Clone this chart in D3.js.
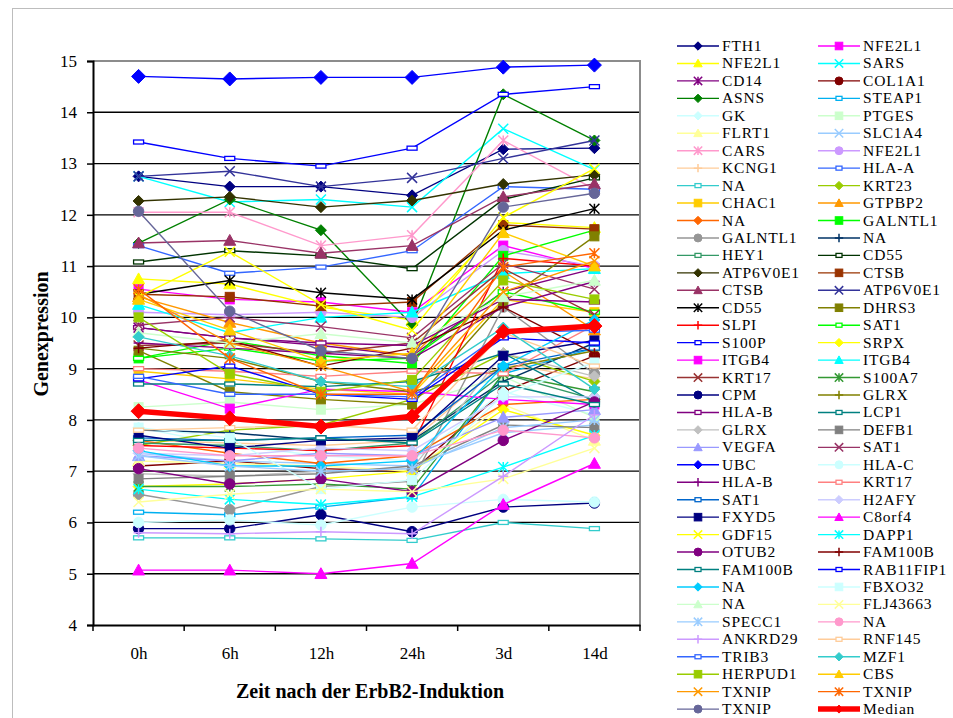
<!DOCTYPE html>
<html>
<head>
<meta charset="utf-8">
<script src="https://cdn.jsdelivr.net/npm/d3@7/dist/d3.min.js"></script>
<style>
  body { margin: 0; background: #fff; }
  svg { display: block; }
  svg text { font-family: "Liberation Serif", "Times New Roman", serif; fill: #000; }
</style>
</head>
<body>
<div class="chart"></div>
<script>
var values = { width: 953, height: 718, left: 93, right: 640, top: 61, bottom: 625 };
var serif = "'Liberation Serif', 'Times New Roman', serif";

// time points on the x axis
var categories = ["0h", "6h", "12h", "24h", "3d", "14d"];
var yTicks = [4, 5, 6, 7, 8, 9, 10, 11, 12, 13, 14, 15];

// genes in legend order
var genes = ["FTH1", "NFE2L1", "NFE2L1", "SARS", "CD14", "COL1A1", "ASNS", "STEAP1", "GK", "PTGES",
  "FLRT1", "SLC1A4", "CARS", "NFE2L1", "KCNG1", "HLA-A", "NA", "KRT23", "CHAC1", "GTPBP2",
  "NA", "GALNTL1", "GALNTL1", "NA", "HEY1", "CD55", "ATP6V0E1", "CTSB", "CTSB", "ATP6V0E1",
  "CD55", "DHRS3", "SLPI", "SAT1", "S100P", "SRPX", "ITGB4", "ITGB4", "KRT17", "S100A7",
  "CPM", "GLRX", "HLA-B", "LCP1", "GLRX", "DEFB1", "VEGFA", "SAT1", "UBC", "HLA-C",
  "HLA-B", "KRT17", "SAT1", "H2AFY", "FXYD5", "C8orf4", "GDF15", "DAPP1", "OTUB2", "FAM100B",
  "FAM100B", "RAB11FIP1", "NA", "FBXO32", "NA", "FLJ43663", "SPECC1", "NA", "ANKRD29", "RNF145",
  "TRIB3", "MZF1", "HERPUD1", "CBS", "TXNIP", "TXNIP", "TXNIP"];

var geneColors = ["#000080", "#FF00FF", "#FFFF00", "#00FFFF", "#800080", "#800000", "#008000", "#00B0F0", "#CCFFFF", "#CCFFCC",
  "#FFFF99", "#99CCFF", "#FF99CC", "#CC99FF", "#FFCC99", "#3366FF", "#33CCCC", "#99CC00", "#FFCC00", "#FF9900",
  "#FF6600", "#00FF00", "#969696", "#003366", "#339966", "#003300", "#333300", "#993300", "#993366", "#333399",
  "#000000", "#808000", "#FF0000", "#00FF00", "#0000FF", "#FFFF00", "#FF00FF", "#00FFFF", "#993333", "#339933",
  "#000080", "#808000", "#800080", "#008080", "#C0C0C0", "#808080", "#9999FF", "#993366", "#0000FF", "#CCFFFF",
  "#800080", "#FF8080", "#0066CC", "#CCCCFF", "#000080", "#FF00FF", "#FFFF00", "#00FFFF", "#800080", "#800000",
  "#008080", "#0000FF", "#00CCFF", "#CCFFFF", "#CCFFCC", "#FFFF99", "#99CCFF", "#FF99CC", "#CC99FF", "#FFCC99",
  "#3366FF", "#33CCCC", "#99CC00", "#FFCC00", "#FF9900", "#FF6600", "#666699"];

var geneMarkers = ["diamond", "square", "triangle", "x", "star", "circle", "diamond", "dash", "diamond", "square",
  "triangle", "x", "star", "circle", "plus", "dash", "dash", "diamond", "square", "triangle",
  "diamond", "square", "circle", "plus", "dash", "dash", "diamond", "square", "triangle", "x",
  "star", "square", "plus", "dash", "dash", "diamond", "square", "triangle", "x", "star",
  "circle", "plus", "dash", "dash", "diamond", "square", "triangle", "x", "diamond", "circle",
  "plus", "dash", "dash", "diamond", "square", "triangle", "x", "star", "circle", "plus",
  "dash", "dash", "diamond", "square", "triangle", "x", "star", "circle", "plus", "dash",
  "dash", "diamond", "square", "triangle", "x", "star", "circle"];

// expression values per gene, one row per gene (0h, 6h, 12h, 24h, 3d, 14d)
var expression = [
  [12.75, 12.55, 12.55, 12.38, 13.28, 13.30],
  [10.55, 10.35, 10.30, 10.10, 11.40, 10.95],
  [10.75, 10.65, 10.20, 9.95, 11.85, 11.75],
  [12.75, 12.25, 12.30, 12.15, 13.68, 12.88],
  [9.80, 9.60, 9.45, 9.25, 10.50, 10.95],
  [7.10, 7.20, 7.05, 7.00, 8.55, 9.25],
  [11.45, 12.30, 11.70, 9.85, 14.35, 13.45],
  [6.20, 6.15, 6.30, 6.50, 8.90, 9.40],
  [7.85, 7.50, 7.30, 7.20, 8.55, 8.10],
  [8.25, 8.35, 8.20, 8.30, 8.85, 8.05],
  [7.20, 7.15, 7.10, 7.00, 8.30, 7.60],
  [7.35, 7.20, 7.15, 7.10, 7.75, 7.90],
  [12.05, 12.05, 11.40, 11.60, 13.45, 12.50],
  [10.10, 10.05, 10.10, 10.00, 11.30, 11.00],
  [7.60, 7.55, 7.50, 7.60, 9.10, 8.80],
  [11.40, 10.86, 10.98, 11.30, 12.55, 12.50],
  [5.70, 5.70, 5.68, 5.65, 6.00, 5.88],
  [7.50, 7.80, 7.90, 8.40, 9.30, 8.75],
  [8.95, 8.80, 8.60, 8.50, 10.35, 10.10],
  [10.40, 9.90, 9.50, 9.25, 10.90, 9.75],
  [7.60, 7.35, 7.15, 7.30, 8.30, 8.40],
  [9.20, 9.55, 9.25, 9.10, 11.20, 11.70],
  [6.55, 6.25, 6.70, 6.80, 10.20, 8.90],
  [7.80, 7.75, 7.60, 7.60, 8.75, 9.50],
  [7.55, 7.50, 7.40, 7.55, 8.90, 8.40],
  [11.08, 11.30, 11.20, 10.95, 12.30, 12.72],
  [12.27, 12.35, 12.15, 12.28, 12.60, 12.78],
  [10.45, 10.40, 10.22, 10.30, 11.80, 11.72],
  [11.45, 11.50, 11.25, 11.40, 12.35, 12.60],
  [12.75, 12.85, 12.55, 12.72, 13.10, 13.45],
  [10.45, 10.72, 10.48, 10.35, 11.70, 12.12],
  [9.35, 8.55, 8.40, 8.30, 10.30, 11.58],
  [7.50, 7.45, 7.40, 7.50, 11.15, 11.00],
  [9.20, 9.40, 9.15, 9.20, 10.50, 10.10],
  [13.42, 13.10, 12.95, 13.30, 14.35, 14.50],
  [6.70, 6.75, 6.85, 7.00, 8.20, 7.70],
  [8.78, 8.22, 8.60, 8.55, 8.40, 8.30],
  [10.25, 9.70, 10.00, 10.10, 10.85, 10.95],
  [9.45, 9.50, 9.30, 9.50, 10.95, 10.05],
  [6.70, 6.70, 6.75, 6.65, 8.90, 8.55],
  [5.88, 5.88, 6.15, 5.82, 6.30, 6.38],
  [9.40, 9.20, 8.75, 8.55, 9.00, 9.35],
  [9.80, 9.60, 9.50, 9.45, 10.35, 10.30],
  [8.70, 8.70, 8.65, 8.75, 9.30, 8.35],
  [6.95, 6.90, 7.00, 7.05, 9.30, 8.85],
  [6.85, 6.90, 6.95, 7.10, 7.90, 7.85],
  [7.30, 7.20, 7.35, 7.30, 8.05, 8.20],
  [9.85, 10.00, 9.82, 9.60, 11.05, 10.55],
  [14.70, 14.65, 14.68, 14.68, 14.88, 14.92],
  [6.00, 6.05, 5.95, 6.30, 6.45, 6.40],
  [9.50, 9.40, 9.30, 9.20, 10.20, 10.70],
  [9.00, 8.95, 8.85, 8.95, 8.90, 9.85],
  [7.65, 7.60, 7.65, 7.70, 9.05, 9.40],
  [7.35, 7.30, 7.45, 7.40, 8.45, 8.45],
  [7.70, 7.45, 7.60, 7.65, 9.25, 9.55],
  [5.07, 5.07, 5.00, 5.20, 6.35, 7.15],
  [10.40, 11.28, 10.25, 9.75, 11.95, 12.90],
  [6.65, 6.45, 6.35, 6.50, 7.08, 7.70],
  [7.05, 6.75, 6.85, 6.60, 7.60, 8.35],
  [9.40, 9.55, 9.05, 9.40, 10.20, 9.30],
  [7.60, 7.60, 7.65, 7.55, 8.70, 8.30],
  [8.80, 9.05, 8.50, 8.40, 9.60, 9.50],
  [7.40, 7.10, 7.10, 7.20, 9.05, 9.95],
  [7.85, 7.65, 6.65, 6.83, 8.48, 9.12],
  [9.70, 9.50, 9.68, 9.50, 10.40, 10.72],
  [6.40, 6.55, 6.65, 6.60, 6.85, 7.45],
  [7.30, 7.10, 7.00, 7.05, 7.85, 8.00],
  [7.45, 7.30, 7.30, 7.30, 7.80, 7.65],
  [5.80, 5.78, 5.82, 5.78, 6.90, 8.10],
  [7.80, 7.85, 7.90, 7.80, 9.70, 9.05],
  [8.85, 8.50, 8.50, 8.45, 9.70, 9.75],
  [9.62, 9.25, 8.75, 8.65, 9.80, 8.60],
  [10.00, 8.90, 8.55, 8.78, 10.72, 10.35],
  [10.35, 9.75, 9.15, 9.30, 11.65, 11.00],
  [10.45, 9.50, 9.05, 8.55, 10.50, 11.10],
  [10.55, 9.20, 8.50, 8.50, 10.98, 11.25],
  [12.07, 10.12, 9.35, 9.20, 12.15, 12.42]
];

var median = [8.17, 8.03, 7.87, 8.07, 9.72, 9.83];

var labelX = "Zeit nach der ErbB2-Induktion";
var labelY = "Genexpression";

var svg = d3.select(".chart")
  .append("svg")
  .attr("width", values.width)
  .attr("height", values.height)
  .attr("font-family", serif);

// outer chart border
svg.append("rect")
  .attr("x", 12.5).attr("y", 8.5)
  .attr("width", 960).attr("height", 730)
  .attr("fill", "#fff")
  .attr("stroke", "#bdbdbd");

var x = d3.scalePoint()
  .domain(categories)
  .range([values.left, values.right])
  .padding(0.5);

var y = d3.scaleLinear()
  .domain([4, 15])
  .range([values.bottom, values.top]);

// horizontal gridlines
svg.append("g")
  .selectAll("line")
  .data(yTicks.filter(d => d > 4 && d < 15))
  .enter()
  .append("line")
  .attr("x1", values.left).attr("x2", values.right)
  .attr("y1", d => y(d)).attr("y2", d => y(d))
  .attr("stroke", "#000")
  .attr("stroke-width", 1.3);

// plot area border (top and right in grey)
svg.append("path")
  .attr("d", "M" + values.left + "," + y(15) + "H" + values.right + "V" + values.bottom)
  .attr("fill", "none")
  .attr("stroke", "#8c8c8c")
  .attr("stroke-width", 2);

// y axis
var yAxis = d3.axisLeft(y).tickValues(yTicks).tickSize(6).tickPadding(10);
var gy = svg.append("g")
  .attr("transform", "translate(" + values.left + ",0)")
  .call(yAxis)
  .attr("font-family", serif);
gy.select(".domain").attr("stroke", "#000").attr("stroke-width", 2);
gy.selectAll(".tick line").attr("stroke", "#000").attr("stroke-width", 1.5);
gy.selectAll(".tick text")
  .style("font-family", serif)
  .attr("font-size", 17)
  .attr("fill", "#000");

// x axis, ticks between the categories
var step = x.step();
var xAxis = d3.axisBottom(x).tickSize(0).tickPadding(22);
var gx = svg.append("g")
  .attr("transform", "translate(0," + values.bottom + ")")
  .call(xAxis)
  .attr("font-family", serif);
gx.select(".domain").attr("stroke", "#000").attr("stroke-width", 2);
gx.selectAll(".tick text")
  .style("font-family", serif)
  .attr("font-size", 17)
  .attr("fill", "#000");
gx.selectAll(".sep")
  .data(d3.range(categories.length + 1))
  .enter()
  .append("line")
  .attr("x1", i => values.left + i * step).attr("x2", i => values.left + i * step)
  .attr("y1", 0).attr("y2", 6)
  .attr("stroke", "#000")
  .attr("stroke-width", 1.5);

// axis titles
svg.append("text")
  .attr("x", 370).attr("y", 698)
  .attr("text-anchor", "middle")
  .style("font-family", serif)
  .attr("font-size", 20)
  .attr("font-weight", "bold")
  .text(labelX);

svg.append("text")
  .attr("transform", "translate(48," + 334 + ") rotate(-90)")
  .attr("text-anchor", "middle")
  .style("font-family", serif)
  .attr("font-size", 20)
  .attr("font-weight", "bold")
  .text(labelY);

// draw one marker
function drawMarker(g, type, cx, cy, color, s) {
  if (type === "diamond") {
    g.append("path")
      .attr("d", "M" + cx + "," + (cy - s) + "L" + (cx + s) + "," + cy + "L" + cx + "," + (cy + s) + "L" + (cx - s) + "," + cy + "Z")
      .attr("fill", color).attr("stroke", color);
  } else if (type === "square") {
    g.append("rect")
      .attr("x", cx - s * 0.9).attr("y", cy - s * 0.9)
      .attr("width", s * 1.8).attr("height", s * 1.8)
      .attr("fill", color).attr("stroke", color);
  } else if (type === "triangle") {
    g.append("path")
      .attr("d", "M" + cx + "," + (cy - s) + "L" + (cx + s) + "," + (cy + s * 0.8) + "L" + (cx - s) + "," + (cy + s * 0.8) + "Z")
      .attr("fill", color).attr("stroke", color);
  } else if (type === "circle") {
    g.append("circle")
      .attr("cx", cx).attr("cy", cy).attr("r", s * 0.95)
      .attr("fill", color).attr("stroke", color);
  } else if (type === "x" || type === "star") {
    var p = "M" + (cx - s) + "," + (cy - s) + "L" + (cx + s) + "," + (cy + s) +
      "M" + (cx - s) + "," + (cy + s) + "L" + (cx + s) + "," + (cy - s);
    if (type === "star") p += "M" + cx + "," + (cy - s) + "L" + cx + "," + (cy + s);
    g.append("path").attr("d", p).attr("fill", "none").attr("stroke", color).attr("stroke-width", 1.5);
  } else if (type === "plus") {
    g.append("path")
      .attr("d", "M" + cx + "," + (cy - s) + "L" + cx + "," + (cy + s) + "M" + (cx - s) + "," + cy + "L" + (cx + s) + "," + cy)
      .attr("fill", "none").attr("stroke", color).attr("stroke-width", 1.5);
  } else if (type === "dash") {
    g.append("rect")
      .attr("x", cx - s).attr("y", cy - 2)
      .attr("width", s * 2).attr("height", 4)
      .attr("fill", "#fff").attr("stroke", color).attr("stroke-width", 1.3);
  }
}

function markerSize(type, name) {
  if (name === "UBC") return 7;
  if (type === "triangle") return 6;
  if (type === "circle") return 5.5;
  if (type === "diamond") return 5.5;
  return 5;
}

var line = d3.line()
  .x((d, i) => x(categories[i]))
  .y(d => y(d));

var plot = svg.append("g");

genes.forEach((name, k) => {
  var g = plot.append("g");
  g.append("path")
    .attr("d", line(expression[k]))
    .attr("fill", "none")
    .attr("stroke", geneColors[k])
    .attr("stroke-width", 1.4);
  expression[k].forEach((v, i) => {
    drawMarker(g, geneMarkers[k], x(categories[i]), y(v), geneColors[k], markerSize(geneMarkers[k], name));
  });
});

// median on top
var gm = plot.append("g");
gm.append("path")
  .attr("d", line(median))
  .attr("fill", "none")
  .attr("stroke", "#FF0000")
  .attr("stroke-width", 5.5)
  .attr("stroke-linejoin", "round");
median.forEach((v, i) => drawMarker(gm, "diamond", x(categories[i]), y(v), "#FF0000", 7.5));

// legend, filled row by row in two columns
var legendItems = genes.map((n, k) => ({ name: n, color: geneColors[k], marker: geneMarkers[k], median: false }));
legendItems.push({ name: "Median", color: "#FF0000", marker: "diamond", median: true });

var legend = svg.append("g");
legendItems.forEach((d, k) => {
  var col = k % 2, row = Math.floor(k / 2);
  var lx = col === 0 ? 677 : 818;
  var ly = 46 + row * 17.45;
  var g = legend.append("g");
  g.append("line")
    .attr("x1", lx).attr("x2", lx + 42)
    .attr("y1", ly).attr("y2", ly)
    .attr("stroke", d.color)
    .attr("stroke-width", d.median ? 5.5 : 1.4);
  if (d.median) {
    drawMarker(g, "diamond", lx + 21, ly, d.color, 4);
  } else {
    drawMarker(g, d.marker, lx + 21, ly, d.color, d.marker === "dash" ? 3 : 4.2);
  }
  g.append("text")
    .attr("x", lx + 45).attr("y", ly + 5)
    .style("font-family", serif)
    .attr("font-size", 15.5)
    .attr("letter-spacing", 0.8)
    .text(d.name);
});
</script>
</body>
</html>
